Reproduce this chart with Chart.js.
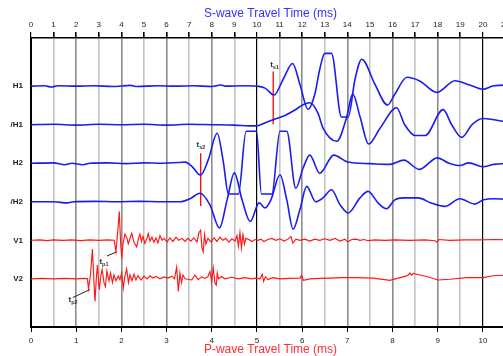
<!DOCTYPE html>
<html>
<head>
<meta charset="utf-8">
<script src="https://cdn.jsdelivr.net/npm/chart.js@4.4.0/dist/chart.umd.min.js"></script>
<style>
  html, body { margin: 0; padding: 0; overflow: hidden; background: #fff; }
  #wrap { width: 540px; height: 356px; }
</style>
</head>
<body>
<div id="wrap"><canvas id="waves"></canvas></div>
<script>
// traces from top to bottom, and the level each one sits on
const traceNames = ['H1', '/H1', 'H2', '/H2', 'V1', 'V2'];
const traceLevels = [6, 5, 4, 3, 2, 1];

// [time in ms (P-wave scale), amplitude in trace spacings]
const h1 = [[0,0],[0.3,0.01],[0.45,-0.02],[0.6,0.01],[1.0,0],[1.4,0.01],[1.8,-0.01],[2.2,0.02],[2.35,-0.01],[2.8,0.01],[3.2,0],[3.6,0.01],[4.0,-0.01],[4.2,0.03],[4.3,0],[4.7,0.01],[5.0,0],
  [5.18,-0.05],[5.38,-0.23],[5.58,0.18],[5.79,0.59],[5.95,0.05],[6.13,-0.6],[6.28,-0.21],[6.39,0.44],[6.5,0.85],[6.65,0.85],[6.87,-0.8],[7.02,-0.8],[7.17,0.18],[7.32,0.7],[7.61,0.05],[7.89,-0.49],[8.05,-0.21],[8.32,0.23],[8.61,0.13],[8.98,-0.16],[9.38,0.14],[9.71,0.03],[10.0,-0.08],[10.24,0.01],[10.6,0.03]];
const h1r = [[0,0],[0.5,0.01],[1.0,-0.01],[1.5,0.01],[2.0,0],[2.5,0.01],[3.0,-0.01],[3.5,0.01],[4.0,0],[4.5,-0.01],[4.9,-0.03],[5.0,-0.03],
  [5.2,0.06],[5.4,0.15],[5.62,0.24],[5.84,0.38],[6.02,0.52],[6.17,0.57],[6.35,0.3],[6.46,-0.08],[6.77,-0.43],[6.98,0.17],[7.12,0.8],[7.28,0.21],[7.47,-0.5],[7.72,-0.1],[8.09,0.44],[8.27,0],[8.5,-0.28],[8.72,-0.28],[9.12,0.39],[9.31,0],[9.53,-0.33],[9.76,0],[10.0,0.16],[10.24,0.13],[10.6,0.05]];
const h2 = [[0,0],[0.5,0.01],[0.75,-0.04],[0.9,0],[1.15,-0.04],[1.3,0],[1.7,0.01],[2.1,-0.01],[2.5,0.01],[2.9,0],[3.3,0.02],[3.41,0.03],
  [3.56,-0.08],[3.75,-0.31],[3.92,0.08],[4.12,0.78],[4.25,0.08],[4.37,-0.8],[4.59,-0.8],[4.76,0.83],[4.99,0.83],[5.1,-0.8],[5.33,-0.8],[5.51,0.83],[5.66,0.83],[5.86,-0.65],[6.02,-0.13],[6.17,0.21],[6.39,-0.26],[6.7,0.21],[7.01,0.03],[7.5,-0.01],[7.94,-0.03],[8.25,0.08],[8.59,-0.16],[8.99,0.14],[9.25,0],[9.49,-0.06],[9.69,0.01],[10.0,-0.09],[10.24,-0.03],[10.6,0]];
const h2r = [[0,0],[0.5,0],[0.8,-0.03],[0.95,0],[1.4,0.01],[1.9,0],[2.4,0.01],[2.9,0],[3.3,0],
  [3.52,0.08],[3.74,0.22],[3.96,-0.08],[4.17,-0.68],[4.34,0.05],[4.5,0.75],[4.67,0.05],[4.85,-0.51],[5.05,-0.03],[5.18,-0.16],[5.31,0.05],[5.51,0.7],[5.66,0.05],[5.8,-0.71],[5.95,-0.21],[6.1,0.4],[6.3,0.0],[6.46,0.1],[6.65,0.31],[6.84,-0.08],[7.02,-0.29],[7.28,0.1],[7.46,0.27],[7.68,-0.03],[7.87,-0.18],[8.05,0.05],[8.24,0.1],[8.57,0.1],[8.85,-0.03],[9.16,-0.12],[9.49,0.08],[9.82,-0.06],[10.01,0.05],[10.25,0.08],[10.6,0.06]];
const v1 = [[0,0],[0.2,0.01],[0.35,-0.01],[0.5,0.01],[0.7,0],[0.9,0.01],[1.1,-0.01],[1.3,0.01],[1.5,0],[1.7,0.01],[1.84,0],
  [1.88,-0.29],[1.925,0.3],[1.954,0.75],[1.98,0],[2.007,-0.47],[2.035,-0.1],[2.08,0.16],[2.124,0.05],[2.153,-0.09],[2.19,0.05],[2.228,0.18],[2.279,-0.05],[2.338,-0.17],[2.378,0.05],[2.41,0.16],[2.445,-0.03],[2.478,0.1],[2.52,-0.08],[2.566,0.05],[2.595,0.18],[2.633,-0.02],[2.677,0.08],[2.72,-0.05],[2.765,0.06],[2.81,-0.07],[2.854,0.12],[2.9,0],[2.942,0.05],[3.01,-0.04],[3.075,0.06],[3.14,-0.03],[3.21,0.08],[3.27,0],[3.34,0.05],[3.41,-0.03],[3.47,0.05],[3.54,-0.02],[3.6,0.06],
  [3.673,-0.05],[3.717,0.2],[3.754,0.26],[3.783,-0.2],[3.81,-0.3],[3.84,0.15],[3.87,-0.1],[3.916,0.05],[3.98,-0.04],[4.05,0.06],[4.115,-0.03],[4.18,0.08],[4.25,0],[4.31,0.05],[4.38,-0.05],[4.447,0.04],[4.513,-0.02],
  [4.558,0.12],[4.59,-0.15],[4.624,0.2],[4.657,-0.2],[4.69,0.15],[4.724,-0.1],[4.757,0.05],[4.823,0.02],[4.889,-0.03],[4.956,0.02],[5.02,0],[5.088,0.03],[5.155,-0.03],[5.24,0.02],[5.33,0.05],[5.42,0],[5.51,0.04],[5.6,-0.02],[5.686,0.03],[5.752,0.1],[5.796,-0.07],[5.863,0.03],
  [5.95,0],[6.06,0.03],[6.17,-0.02],[6.28,0.03],[6.39,0],[6.5,0.04],[6.615,0],[6.73,0.05],[6.836,-0.02],[6.947,0.03],[7.01,-0.04],[7.1,0.02],[7.19,0.03],[7.28,0],[7.37,0.02],[7.46,-0.01],[7.61,0.01],[7.83,0],[8.05,0.01],[8.38,0],[8.72,0.01],[8.94,-0.01],[8.98,-0.05],[9.03,0.02],[9.27,0],[9.6,0.01],[9.93,0.01],[10.27,0.02],[10.6,0.01]];
const v2 = [[0,0],[0.25,0.01],[0.5,0],[0.75,0.01],[1.0,0],[1.2,0.01],[1.25,0],
  [1.272,-0.26],[1.316,0.1],[1.36,0.77],[1.394,-0.1],[1.416,-0.59],[1.445,0],[1.47,0.36],[1.51,-0.28],[1.549,0.1],[1.575,0.24],[1.615,-0.1],[1.648,-0.2],[1.68,0.2],[1.726,-0.05],[1.759,0.15],[1.803,-0.1],[1.836,0.1],[1.88,-0.05],[1.93,0.07],[1.969,-0.02],[2.007,0.15],[2.042,-0.24],[2.075,0.05],[2.117,0.25],[2.157,-0.1],[2.19,0.1],[2.235,-0.05],[2.28,0.12],[2.323,-0.03],[2.367,0.08],[2.434,-0.03],[2.5,0.07],[2.566,0],[2.633,0.08],[2.7,0.02],[2.765,0.06],[2.854,0],[2.942,0.05],[3.03,0.02],[3.12,0.07],
  [3.175,0],[3.224,0.3],[3.26,-0.33],[3.296,0.15],[3.33,-0.1],[3.363,0.1],[3.407,0],[3.555,-0.03],[3.628,0.1],[3.7,-0.02],[3.777,0.05],[3.85,0.01],[3.916,0.06],[3.96,0.19],[3.998,-0.07],[4.033,0.28],[4.07,-0.11],[4.1,-0.16],[4.122,0.15],[4.148,0],[4.22,0.06],[4.292,0],[4.44,0.04],[4.58,0],[4.735,0.03],[4.883,0],[4.978,0.02],[5.066,0],[5.117,0.12],[5.148,-0.07],[5.188,0.05],[5.243,-0.02],[5.354,0.03],[5.509,0],[5.73,0.01],[5.951,0.02],[5.989,0.09],[6.029,-0.04],[6.173,0],[6.394,0.01],[6.615,0.02],[6.874,0.03],[7.206,0.03],[7.573,0.02],[7.942,-0.04],[8.164,0.03],[8.296,0.07],[8.347,0.1],[8.385,0.15],[8.418,0.09],[8.458,0.14],[8.533,0.12],[8.754,0.06],[9.011,-0.03],[9.27,-0.01],[9.639,0.03],[10.007,0.03],[10.228,0.08],[10.6,0.1]];

// S-wave picks (red bars) and P-wave picks (black leaders): time, from level, to level
const sPicks = [[5.36, 5.01, 6.38], [3.755, 2.89, 4.26]];
const pLeaders = [[[1.682, 1.593], [1.903, 1.704]], [[0.929, 0.516], [1.306, 0.723]]];
// pick names: time, level, subscript
const pickNames = [[5.39, 6.55, 's1'], [3.76, 4.47, 's2'], [1.615, 1.44, 'p1'], [0.93, 0.45, 'p2']];

const pMax = 10.6;   // P-wave time axis ends here
const sPerP = 2;     // S-wave time = 2 x P-wave time

const traces = [h1, h1r, h2, h2r, v1, v2];
const blue = 'rgb(28,28,238)';
const red = 'rgb(255,22,22)';

const datasets = traces.map((tr, i) => ({
    data: tr.map(p => ({ x: p[0], y: traceLevels[i] + p[1] })),
    borderColor: i < 4 ? blue : red,
    borderWidth: i < 4 ? 1.6 : 1.15,
    pointRadius: 0,
    cubicInterpolationMode: i < 4 ? 'monotone' : 'default',
    tension: 0
}));

sPicks.forEach(p => {
    datasets.push({
        data: [{ x: p[0], y: p[1] }, { x: p[0], y: p[2] }],
        borderColor: 'rgb(255,0,0)', borderWidth: 1.3, pointRadius: 0
    });
});
pLeaders.forEach(l => {
    datasets.push({
        data: l.map(p => ({ x: p[0], y: p[1] })),
        borderColor: '#222', borderWidth: 1, pointRadius: 0
    });
});

// draws the "t" pick names with their subscripts
const pickNamePlugin = {
    id: 'pickNames',
    afterDatasetsDraw(chart) {
        const ctx = chart.ctx;
        const xs = chart.scales.x, ys = chart.scales.y;
        ctx.save();
        ctx.fillStyle = '#333';
        ctx.textBaseline = 'middle';
        pickNames.forEach(n => {
            const px = xs.getPixelForValue(n[0]);
            const py = ys.getPixelForValue(n[1]);
            ctx.font = 'bold 8px "Liberation Sans", Arial, sans-serif';
            const wt = ctx.measureText('t').width;
            ctx.font = 'bold 5.5px "Liberation Sans", Arial, sans-serif';
            const ws = ctx.measureText(n[2]).width;
            const left = px - (wt + ws) / 2;
            ctx.font = 'bold 8px "Liberation Sans", Arial, sans-serif';
            ctx.fillText('t', left, py);
            ctx.font = 'bold 5.5px "Liberation Sans", Arial, sans-serif';
            ctx.fillText(n[2], left + wt, py + 2.5);
        });
        ctx.restore();
    }
};

function gridColor(c) {
    if (!c.tick) return '#999';
    const v = Math.round(c.tick.value);
    if (v === 0) return 'rgba(0,0,0,0)';
    if (v % 10 === 0) return '#000';
    return v % 2 === 0 ? '#8c8c8c' : '#c4c4c4';
}
function gridWidth(c) {
    if (!c.tick) return 1.5;
    return Math.round(c.tick.value) % 10 === 0 ? 1.2 : 1.6;
}

const tickFont = { family: '"Liberation Sans", Arial, sans-serif', size: 8 };

new Chart(document.getElementById('waves'), {
    type: 'line',
    data: { datasets: datasets },
    options: {
        responsive: true,
        maintainAspectRatio: false,
        animation: false,
        layout: { padding: { left: 0, right: 30, top: 0, bottom: 0 } },
        plugins: { legend: { display: false }, tooltip: { enabled: false } },
        scales: {
            x: {
                type: 'linear', position: 'bottom', min: 0, max: pMax,
                ticks: { stepSize: 1, includeBounds: false, autoSkip: false, maxRotation: 0, padding: 4, color: '#222', font: tickFont },
                grid: { drawOnChartArea: false, drawTicks: true, tickLength: 5, tickColor: '#000', color: '#000' },
                border: { color: '#000', width: 2 },
                title: {
                    display: true, text: 'P-wave Travel Time (ms)', color: 'rgb(255,45,45)',
                    font: { family: '"Liberation Sans", Arial, sans-serif', size: 12, lineHeight: 1 },
                    padding: { top: 0, bottom: 0 }
                },
                afterFit: s => { s.height = 29; }
            },
            x2: {
                type: 'linear', position: 'top', min: 0, max: pMax * sPerP,
                ticks: { stepSize: 1, includeBounds: false, autoSkip: false, maxRotation: 0, padding: 2, color: '#222', font: tickFont },
                grid: { drawOnChartArea: true, drawTicks: true, tickLength: 6, tickColor: '#000', color: gridColor, lineWidth: gridWidth },
                border: { color: '#000', width: 1.5 },
                title: {
                    display: true, text: 'S-wave Travel Time (ms)', color: 'rgb(50,50,255)',
                    font: { family: '"Liberation Sans", Arial, sans-serif', size: 12, lineHeight: 1 },
                    padding: { top: 8, bottom: 0 }
                },
                afterFit: s => { s.height = 38; }
            },
            y: {
                type: 'linear', min: -0.25, max: 7.25,
                afterBuildTicks: s => { s.ticks = traceLevels.map(v => ({ value: v })); },
                ticks: {
                    padding: 8, color: '#222',
                    font: { family: '"Liberation Sans", Arial, sans-serif', size: 8, weight: 'bold' },
                    callback: v => traceNames[traceLevels.indexOf(v)]
                },
                grid: { display: false, drawTicks: false },
                border: { color: '#000', width: 2 },
                afterFit: s => { s.width = 31; }
            }
        }
    },
    plugins: [pickNamePlugin]
});
</script>
</body>
</html>
